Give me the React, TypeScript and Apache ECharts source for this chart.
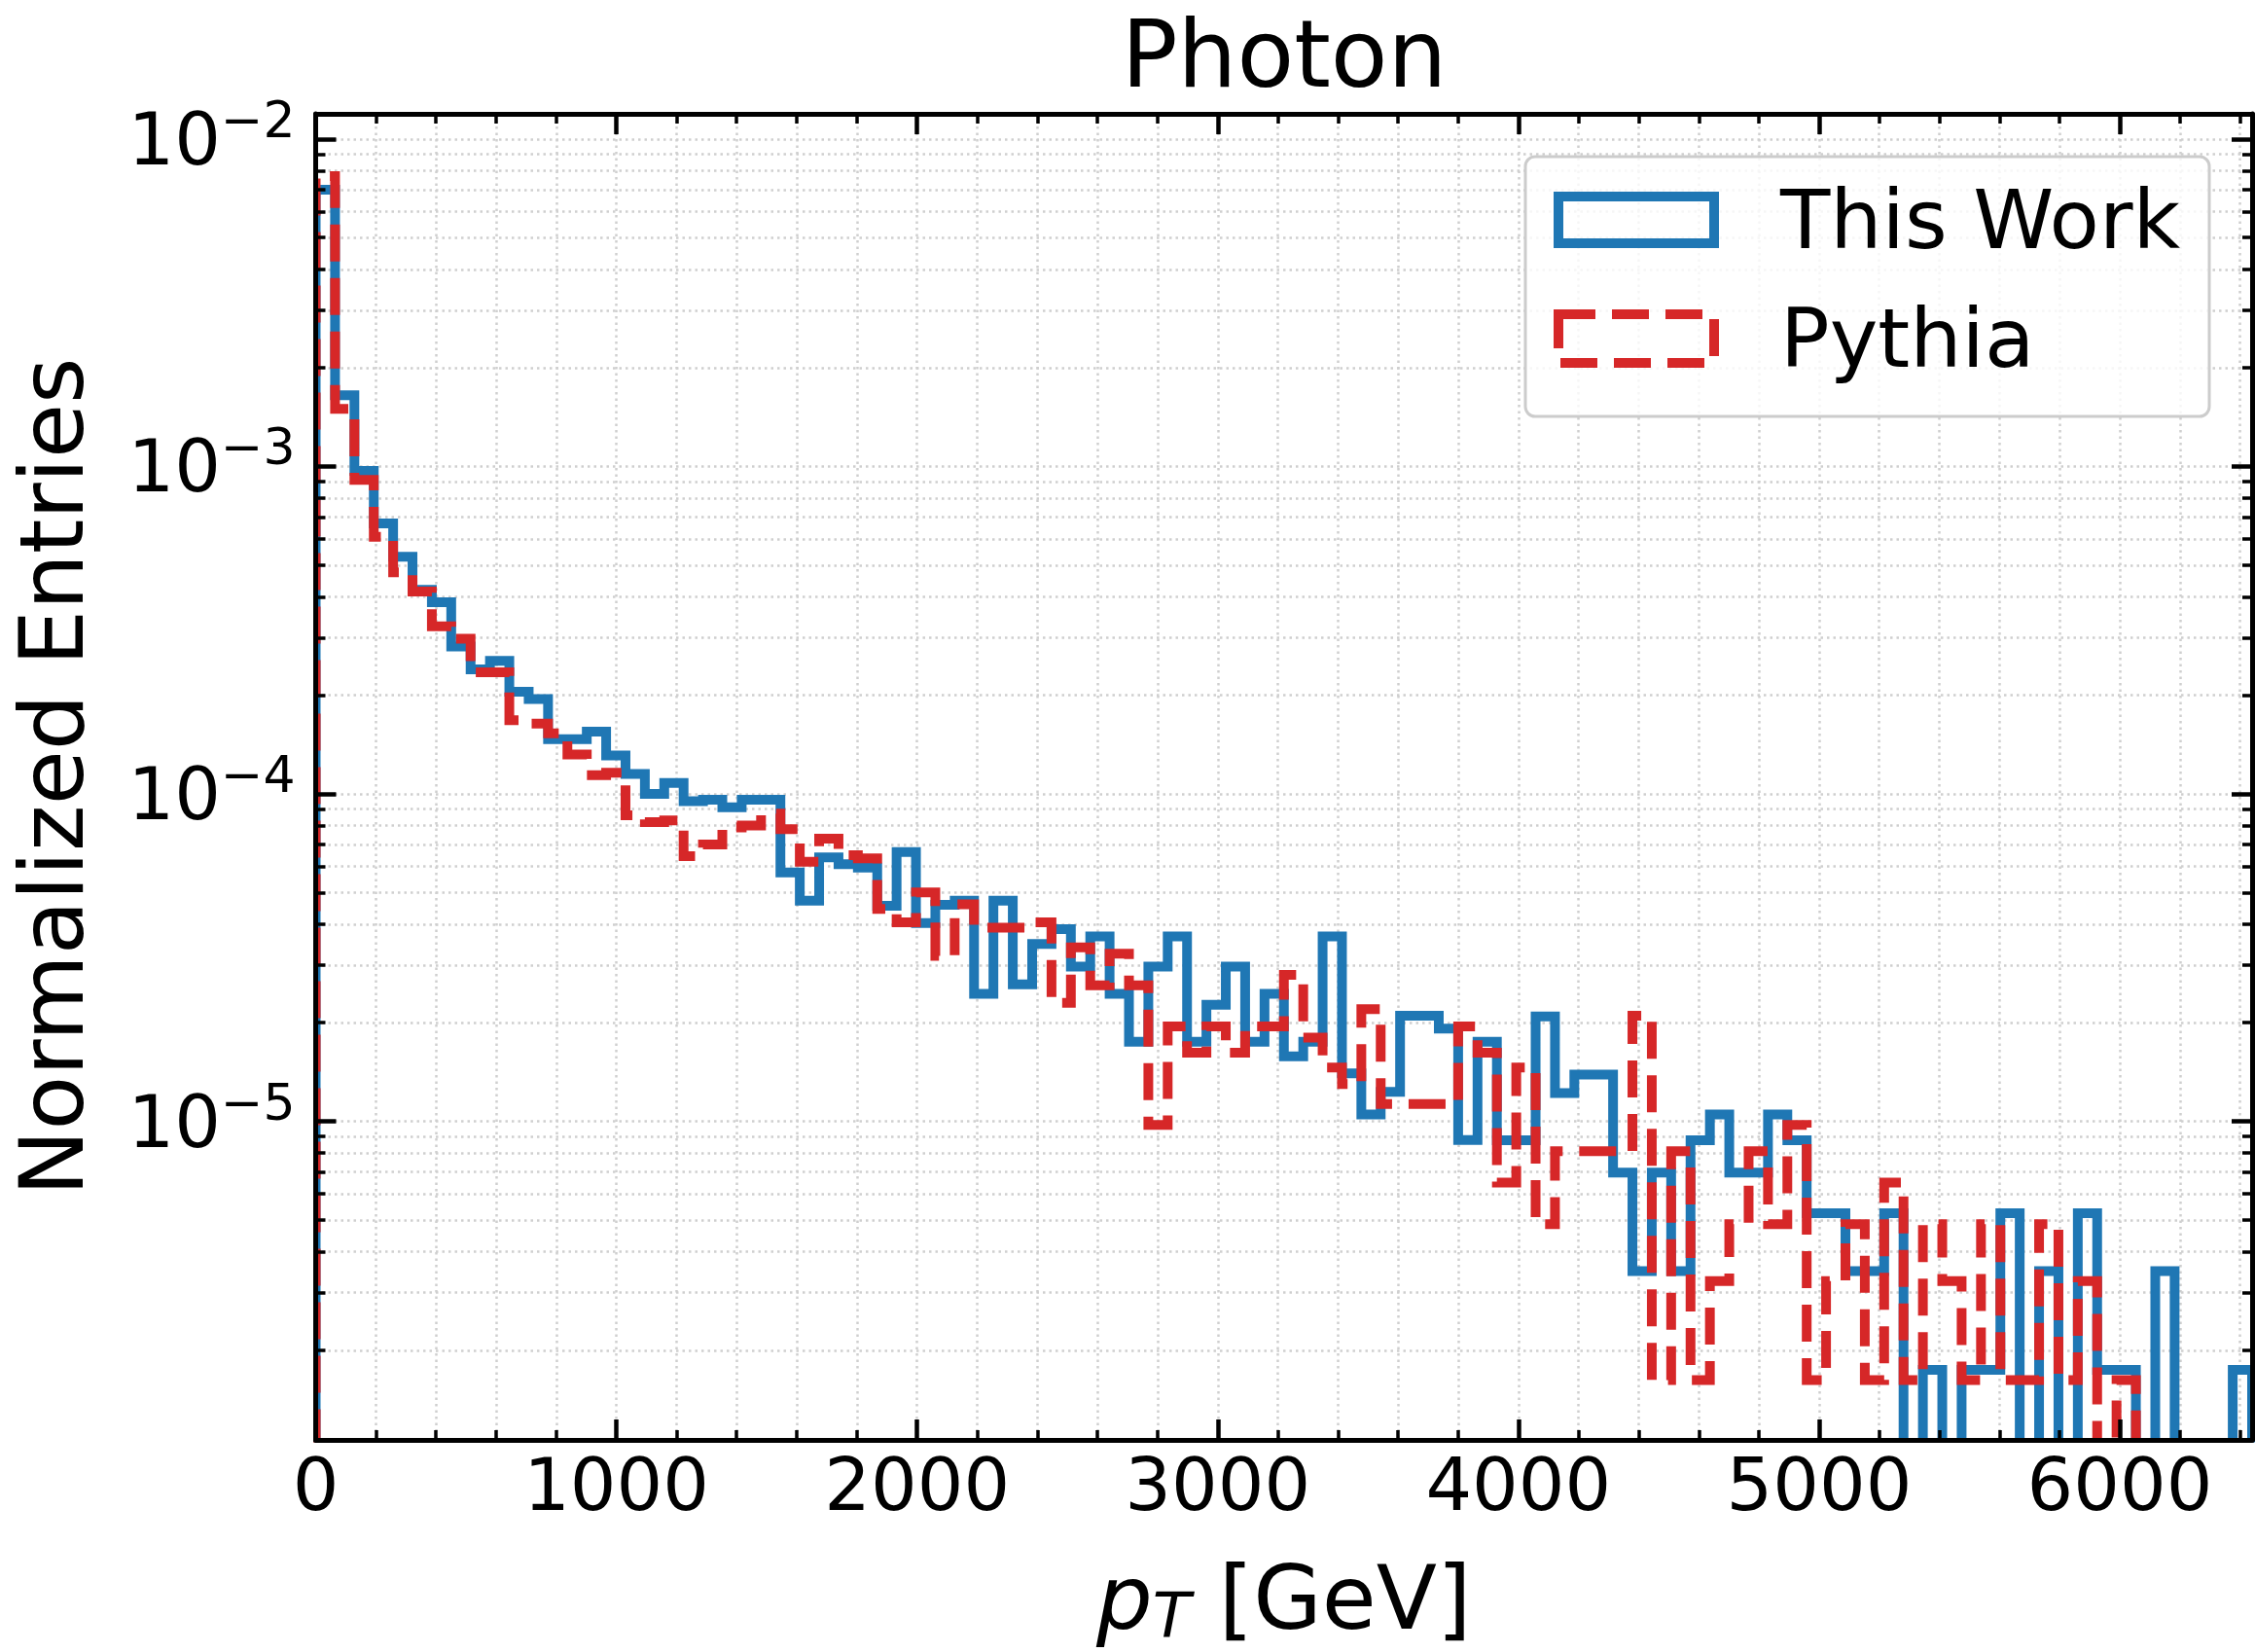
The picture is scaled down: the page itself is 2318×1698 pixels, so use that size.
import React, { useEffect, useRef } from "react";
import * as echarts from "echarts";

// ---------------- data ----------------
const BIN_WIDTH = 64.4; // GeV, 100 uniform bins
const X_MAX = 6440;
const Y_MIN = 1.064e-6;
const Y_MAX = 1.194e-2;

const SERIES_NAMES = ["This Work", "Pythia"];

const THIS_WORK = [
  7.0e-3, 1.65e-3, 9.7e-4, 6.7e-4, 5.3e-4, 4.2e-4, 3.85e-4, 2.82e-4, 2.4e-4, 2.55e-4,
  2.05e-4, 1.95e-4, 1.47e-4, 1.47e-4, 1.55e-4, 1.31e-4, 1.15e-4, 1.0e-4, 1.08e-4, 9.5e-5,
  9.6e-5, 9.1e-5, 9.6e-5, 9.6e-5, 5.75e-5, 4.72e-5, 6.4e-5, 6.1e-5, 5.96e-5, 4.55e-5,
  6.64e-5, 4.03e-5, 4.58e-5, 4.72e-5, 2.45e-5, 4.72e-5, 2.62e-5, 3.48e-5, 3.86e-5, 2.97e-5,
  3.67e-5, 2.45e-5, 1.75e-5, 2.97e-5, 3.67e-5, 1.75e-5, 2.27e-5, 2.97e-5, 1.75e-5, 2.45e-5,
  1.58e-5, 1.75e-5, 3.67e-5, 1.4e-5, 1.05e-5, 1.23e-5, 2.1e-5, 2.1e-5, 1.92e-5, 8.77e-6,
  1.75e-5, 8.75e-6, 8.75e-6, 2.09e-5, 1.22e-5, 1.39e-5, 1.39e-5, 6.97e-6, 3.49e-6, 6.97e-6,
  3.49e-6, 8.75e-6, 1.05e-5, 6.97e-6, 6.97e-6, 1.05e-5, 8.75e-6, 5.24e-6, 5.24e-6, 3.49e-6,
  3.49e-6, 5.24e-6, 0, 1.74e-6, 0, 1.74e-6, 1.74e-6, 5.24e-6, 0, 3.49e-6,
  0, 5.24e-6, 1.74e-6, 1.74e-6, 0, 3.49e-6, 0, 0, 0, 1.74e-6,
];

const PYTHIA = [
  7.7e-3, 1.5e-3, 9.1e-4, 6.1e-4, 4.75e-4, 4.15e-4, 3.25e-4, 2.98e-4, 2.35e-4, 2.35e-4,
  1.68e-4, 1.64e-4, 1.53e-4, 1.32e-4, 1.14e-4, 1.16e-4, 8.6e-5, 8.2e-5, 8.3e-5, 6.45e-5,
  7.0e-5, 7.9e-5, 8.0e-5, 8.7e-5, 7.8e-5, 6.2e-5, 7.3e-5, 6.5e-5, 6.35e-5, 4.45e-5,
  4.05e-5, 5.0e-5, 3.2e-5, 4.6e-5, 3.9e-5, 3.9e-5, 3.9e-5, 4.05e-5, 2.3e-5, 3.4e-5,
  2.6e-5, 3.25e-5, 2.6e-5, 9.75e-6, 1.95e-5, 1.62e-5, 1.95e-5, 1.62e-5, 1.95e-5, 1.95e-5,
  2.8e-5, 1.8e-5, 1.46e-5, 1.3e-5, 2.2e-5, 1.13e-5, 1.13e-5, 1.13e-5, 1.13e-5, 1.95e-5,
  1.62e-5, 6.5e-6, 1.46e-5, 4.85e-6, 8.1e-6, 8.1e-6, 8.1e-6, 8.1e-6, 2.1e-5, 1.62e-6,
  8.1e-6, 1.62e-6, 3.25e-6, 4.85e-6, 8.1e-6, 4.85e-6, 9.75e-6, 1.62e-6, 3.25e-6, 4.85e-6,
  1.62e-6, 6.5e-6, 1.62e-6, 4.85e-6, 3.25e-6, 1.62e-6, 4.85e-6, 1.62e-6, 1.62e-6, 4.85e-6,
  1.62e-6, 3.25e-6, 0, 1.62e-6, 0, 0, 0, 0, 0, 0,
];

const X_MAJOR_TICKS = [0, 1000, 2000, 3000, 4000, 5000, 6000];
const X_MINOR_STEP = 200;
const Y_MAJOR_EXPONENTS = [-5, -4, -3, -2];
const Y_MINOR_MANTISSAS = [2, 3, 4, 5, 6, 7, 8, 9];
const Y_MINOR_DECADES = [-6, -5, -4, -3];

// ---------------- helpers ----------------
const FONT = "DejaVu Sans";
const BLUE = "#1f77b4";
const RED = "#d62728";
const LOG_MIN = Math.log10(Y_MIN);
const LOG_MAX = Math.log10(Y_MAX);
const FLOOR = LOG_MIN - 1;

const X_MINOR_TICKS: number[] = [];
for (let v = X_MINOR_STEP; v < X_MAX; v += X_MINOR_STEP) {
  if (v % 1000 !== 0) X_MINOR_TICKS.push(v);
}
const X_GRID = [...X_MAJOR_TICKS, ...X_MINOR_TICKS].sort((a, b) => a - b);

const Y_MINOR_LOG: number[] = [];
for (const d of Y_MINOR_DECADES) {
  for (const m of Y_MINOR_MANTISSAS) {
    const v = m * Math.pow(10, d);
    if (v > Y_MIN && v < Y_MAX) Y_MINOR_LOG.push(Math.log10(v));
  }
}
const Y_GRID = [...Y_MAJOR_EXPONENTS, ...Y_MINOR_LOG].sort((a, b) => a - b);

function stepPoints(values: number[]): number[][] {
  const lv = (v: number) => (v > 0 ? Math.log10(v) : FLOOR);
  const pts: number[][] = [[0, FLOOR]];
  values.forEach((v, i) => {
    pts.push([i * BIN_WIDTH, lv(v)]);
    pts.push([(i + 1) * BIN_WIDTH, lv(v)]);
  });
  pts.push([values.length * BIN_WIDTH, FLOOR]);
  return pts;
}

const gridLineStyle = { color: "#cfcfcf", width: 2.5, type: [2.5, 4] as any };

function xAxisDef(kind: "grid" | "major" | "minor", position: "top" | "bottom", extra: any = {}) {
  const ticks = kind === "major" ? X_MAJOR_TICKS : kind === "minor" ? X_MINOR_TICKS : X_GRID;
  return {
    type: "value",
    min: 0,
    max: X_MAX,
    gridIndex: 0,
    position,
    z: kind === "grid" ? 0 : 5,
    axisLine: {
      show: kind === "major",
      onZero: false,
      lineStyle: { color: "#000", width: 5 },
    },
    axisTick: {
      show: kind !== "grid",
      inside: true,
      length: kind === "major" ? 21 : 10,
      customValues: ticks,
      lineStyle: { color: "#000", width: kind === "major" ? 4.5 : 3.5 },
    },
    axisLabel: { show: false },
    splitLine: { show: kind === "grid", lineStyle: gridLineStyle },
    ...extra,
  };
}

function yAxisDef(kind: "grid" | "major" | "minor", position: "left" | "right", extra: any = {}) {
  const ticks = kind === "major" ? Y_MAJOR_EXPONENTS : kind === "minor" ? Y_MINOR_LOG : Y_GRID;
  return {
    type: "value",
    min: LOG_MIN,
    max: LOG_MAX,
    gridIndex: 0,
    position,
    z: kind === "grid" ? 0 : 5,
    axisLine: {
      show: kind === "major",
      onZero: false,
      lineStyle: { color: "#000", width: 5 },
    },
    axisTick: {
      show: kind !== "grid",
      inside: true,
      length: kind === "major" ? 21 : 10,
      customValues: ticks,
      lineStyle: { color: "#000", width: kind === "major" ? 4.5 : 3.5 },
    },
    axisLabel: { show: false },
    splitLine: { show: kind === "grid", lineStyle: gridLineStyle },
    ...extra,
  };
}

export default function App() {
  const ref = useRef<HTMLDivElement>(null);

  useEffect(() => {
    if (!ref.current) return;
    const chart = echarts.init(ref.current, null, { renderer: "svg" });

    const option: any = {
      animation: false,
      backgroundColor: "#ffffff",
      grid: {
        left: 324.5,
        top: 117,
        right: 3,
        bottom: 218,
        containLabel: false,
        outerBoundsMode: "none",
      },
      xAxis: [
        xAxisDef("major", "bottom", {
          axisLabel: {
            show: true,
            customValues: X_MAJOR_TICKS,
            margin: 8,
            fontSize: 75,
            lineHeight: 75,
            fontFamily: FONT,
            color: "#000",
            formatter: (v: number) => `${Math.round(v)}`,
          },
          name: "{p|p}{t|T}{n| [GeV]}",
          nameLocation: "middle",
          nameGap: 122,
          nameTextStyle: {
            fontFamily: FONT,
            fontSize: 91,
            lineHeight: 80,
            color: "#000",
            rich: {
              p: { fontFamily: FONT, fontStyle: "italic", fontSize: 91, lineHeight: 80, color: "#000" },
              t: {
                fontFamily: FONT,
                fontStyle: "italic",
                fontSize: 64,
                lineHeight: 22,
                padding: [27, 0, 0, 0],
                verticalAlign: "top",
                color: "#000",
              },
              n: { fontFamily: FONT, fontSize: 91, lineHeight: 80, color: "#000" },
            },
          },
        }),
        xAxisDef("minor", "bottom"),
        xAxisDef("major", "top"),
        xAxisDef("minor", "top"),
        xAxisDef("grid", "bottom"),
      ],
      yAxis: [
        yAxisDef("major", "left", {
          axisLabel: {
            show: true,
            customValues: Y_MAJOR_EXPONENTS,
            margin: 21,
            formatter: (v: number) => `{b|10}{s|\u2212${Math.abs(Math.round(v))}}`,
            rich: {
              b: { fontFamily: FONT, fontSize: 75, lineHeight: 92, color: "#000" },
              s: { fontFamily: FONT, fontSize: 52, lineHeight: 52, verticalAlign: "top", color: "#000" },
            },
          },
          name: "Normalized Entries",
          nameLocation: "middle",
          nameRotate: 90,
          nameGap: 231,
          nameTextStyle: { fontFamily: FONT, fontSize: 91, lineHeight: 80, color: "#000" },
        }),
        yAxisDef("minor", "left"),
        yAxisDef("major", "right"),
        yAxisDef("minor", "right"),
        yAxisDef("grid", "left"),
      ],
      series: [
        {
          name: SERIES_NAMES[0],
          type: "line",
          xAxisIndex: 0,
          yAxisIndex: 0,
          data: stepPoints(THIS_WORK),
          symbol: "none",
          showSymbol: false,
          silent: true,
          clip: true,
          z: 2,
          lineStyle: { color: BLUE, width: 10, type: "solid", cap: "butt", join: "miter" },
        },
        {
          name: SERIES_NAMES[1],
          type: "line",
          xAxisIndex: 0,
          yAxisIndex: 0,
          data: stepPoints(PYTHIA),
          symbol: "none",
          showSymbol: false,
          silent: true,
          clip: true,
          z: 3,
          lineStyle: { color: RED, width: 10, type: [38, 17], cap: "butt", join: "miter" },
        },
      ],
      graphic: [
        // masks for line overflow outside axes
        { type: "rect", z: 4, silent: true, shape: { x: 0, y: 1482.5, width: 2318, height: 5 }, style: { fill: "#fff" } },
        { type: "rect", z: 4, silent: true, shape: { x: 316, y: 100, width: 6, height: 1400 }, style: { fill: "#fff" } },
        // title
        {
          type: "text",
          z: 10,
          x: 1320,
          y: 56,
          style: {
            text: "Photon",
            fontFamily: FONT,
            fontSize: 96,
            lineHeight: 96,
            fill: "#000",
            textAlign: "center",
            textVerticalAlign: "middle",
          },
        },
        // legend frame
        {
          type: "rect",
          z: 10,
          shape: { x: 1568, y: 161, width: 703, height: 267, r: 10 },
          style: { fill: "rgba(255,255,255,0.8)", stroke: "#cccccc", lineWidth: 3 },
        },
        {
          type: "rect",
          z: 11,
          shape: { x: 1602, y: 202, width: 160, height: 48 },
          style: { fill: "none", stroke: BLUE, lineWidth: 10 },
        },
        {
          type: "rect",
          z: 11,
          shape: { x: 1602, y: 323, width: 160, height: 50 },
          style: { fill: "none", stroke: RED, lineWidth: 10, lineDash: [38, 17] },
        },
        {
          type: "text",
          z: 11,
          x: 1830,
          y: 226,
          style: {
            text: SERIES_NAMES[0],
            fontFamily: FONT,
            fontSize: 84,
            fill: "#000",
            textAlign: "left",
            textVerticalAlign: "middle",
          },
        },
        {
          type: "text",
          z: 11,
          x: 1830,
          y: 348,
          style: {
            text: SERIES_NAMES[1],
            fontFamily: FONT,
            fontSize: 84,
            fill: "#000",
            textAlign: "left",
            textVerticalAlign: "middle",
          },
        },
      ],
    };

    chart.setOption(option);
    return () => chart.dispose();
  }, []);

  return (
    <div
      ref={ref}
      style={{ position: "fixed", left: 0, top: 0, width: 2318, height: 1698, background: "#fff" }}
    />
  );
}
